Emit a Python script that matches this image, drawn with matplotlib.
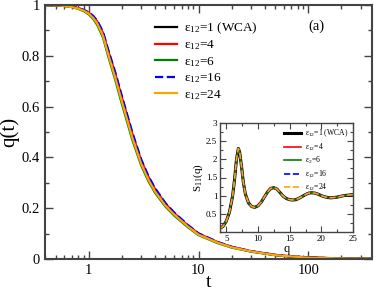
import numpy as np
import matplotlib.pyplot as plt
from matplotlib.ticker import MultipleLocator, LogLocator, NullFormatter

plt.rcParams['font.family'] = ['Liberation Serif', 'DejaVu Serif']
plt.rcParams['mathtext.fontset'] = 'custom'
plt.rcParams['mathtext.rm'] = 'Liberation Serif'
plt.rcParams['mathtext.it'] = 'Liberation Serif:italic'

# datos q(t)
t = [0.4, 0.5, 0.6, 0.7, 0.8, 0.9, 1.0, 1.1, 1.2, 1.35, 1.5, 1.75, 2.0, 2.5,
     3.0, 3.5, 4.0, 5.0, 6.0, 8.0, 10, 15, 20, 30, 50, 70, 100, 200, 380]
q_wca = [1.0, 0.999, 0.997, 0.993, 0.987, 0.979, 0.968, 0.952, 0.93, 0.885, 0.815, 0.72,
         0.63, 0.485, 0.383, 0.318, 0.272, 0.214, 0.178, 0.13, 0.098, 0.065, 0.047, 0.03,
         0.016, 0.01, 0.006, 0.002, 0.001]
q_e4 = [1.0, 0.999, 0.997, 0.993, 0.988, 0.98, 0.97, 0.955, 0.934, 0.89, 0.822, 0.728,
        0.638, 0.492, 0.389, 0.323, 0.277, 0.218, 0.181, 0.132, 0.1, 0.066, 0.048, 0.031,
        0.016, 0.01, 0.006, 0.002, 0.001]
q_e6 = [1.0, 0.999, 0.996, 0.992, 0.985, 0.976, 0.963, 0.945, 0.92, 0.872, 0.8, 0.703,
        0.612, 0.468, 0.369, 0.306, 0.262, 0.206, 0.171, 0.125, 0.094, 0.062, 0.045, 0.029,
        0.015, 0.009, 0.005, 0.002, 0.001]
q_e16 = [1.0, 0.999, 0.997, 0.994, 0.988, 0.981, 0.971, 0.957, 0.937, 0.894, 0.826, 0.733,
         0.643, 0.497, 0.393, 0.326, 0.28, 0.22, 0.183, 0.134, 0.101, 0.067, 0.048, 0.031,
         0.016, 0.01, 0.006, 0.002, 0.001]
q_e24 = [1.0, 0.999, 0.996, 0.992, 0.986, 0.978, 0.966, 0.949, 0.926, 0.879, 0.808, 0.712,
         0.622, 0.477, 0.376, 0.312, 0.267, 0.21, 0.175, 0.128, 0.096, 0.064, 0.046, 0.03,
         0.015, 0.01, 0.005, 0.002, 0.001]

# datos S11(q)
qk = [4, 4.5, 5, 5.5, 6, 6.3, 6.6, 6.9, 7.1, 7.4, 7.7, 8.0, 8.5, 9.0, 9.5, 10.0, 10.5,
      11, 11.5, 12, 12.5, 13, 13.5, 14, 14.5, 15, 15.5, 16, 16.5, 17, 17.5, 18, 18.5,
      19, 19.5, 20, 20.5, 21, 21.5, 22, 22.5, 23, 23.5, 24, 24.5, 25]
S11 = [0.1, 0.16, 0.3, 0.55, 1.0, 1.45, 2.0, 2.3, 2.2, 1.8, 1.35, 1.05, 0.8, 0.7, 0.68,
       0.72, 0.82, 0.96, 1.1, 1.2, 1.22, 1.18, 1.08, 0.98, 0.92, 0.89, 0.88, 0.89, 0.93,
       0.98, 1.03, 1.07, 1.08, 1.07, 1.04, 1.0, 0.97, 0.95, 0.94, 0.95, 0.96, 0.98, 1.0,
       1.01, 1.02, 1.03]

labels = [r'ε$_{12}$=1 (WCA)', r'ε$_{12}$=4', r'ε$_{12}$=6', r'ε$_{12}$=16', r'ε$_{12}$=24']
labels_in = [r'ε$_{12}$=1 (WCA)', r'ε$_{12}$=4', r'ε$_{2}$=6', r'ε$_{12}$=16', r'ε$_{12}$=24']
colores = ['black', 'red', 'green', 'blue', 'orange']
estilos = ['-', '-', '-', '--', '-']
estilos_in = ['-', '-', '-', '--', '--']
curvas = [q_wca, q_e4, q_e6, q_e16, q_e24]

fig = plt.figure(figsize=(3.74, 2.92), dpi=100)
ax = fig.add_axes([45/374, 1-259/292, 327/374, 254/292])

for qq, c, ls, lab in zip(curvas, colores, estilos, labels):
    ax.plot(t, qq, color=c, ls=ls, lw=1.6, label=lab)

ax.set_xscale('log')
ax.set_xlim(0.4, 380)
ax.set_ylim(0, 1)
ax.yaxis.set_minor_locator(MultipleLocator(0.1))
ax.set_yticks([0, 0.2, 0.4, 0.6, 0.8, 1.0])
ax.set_yticklabels(['0', '0.2', '0.4', '0.6', '0.8', '1'])
ax.set_xticks([1, 10, 100])
ax.set_xticklabels(['1', '10', '100'])
ax.xaxis.set_minor_locator(LogLocator(base=10, subs=np.arange(2, 10)))
ax.xaxis.set_minor_formatter(NullFormatter())
ax.tick_params(which='both', direction='in', top=True, right=True, labelsize=10.5,
               color='#444444')
ax.tick_params(which='major', length=6, width=1)
ax.tick_params(which='minor', length=3, width=1)
for s in ax.spines.values():
    s.set_linewidth(1.5)
    s.set_color('#444444')
ax.set_xlabel('t', fontsize=14, labelpad=-2)
ax.set_ylabel('q(t)', fontsize=15, labelpad=2)
ax.legend(loc='upper left', bbox_to_anchor=(0.32, 0.96), frameon=False, fontsize=9.5,
          handlelength=1.7, handletextpad=0.5, labelspacing=0.2, borderaxespad=0)
ax.text(0.83, 0.915, '(a)', transform=ax.transAxes, fontsize=10.5, ha='center', va='center')

# inset
ins = fig.add_axes([220/374, 1-232/292, 133/374, 109/292])
for c, ls, lab in zip(colores, estilos_in, labels_in):
    lw = 2.2 if c == 'black' else 1.2
    ins.plot(qk, S11, color=c, ls=ls, lw=lw, label=lab)
ins.set_xlim(4, 25)
ins.set_ylim(0, 3)
ins.set_xticks([5, 10, 15, 20, 25])
ins.set_yticks([0.5, 1, 1.5, 2, 2.5, 3])
ins.set_yticklabels(['0.5', '1', '1.5', '2', '2.5', '3'])
ins.xaxis.set_minor_locator(MultipleLocator(2.5))
ins.yaxis.set_minor_locator(MultipleLocator(0.25))
ins.tick_params(which='both', direction='in', top=True, right=True, labelsize=6.5,
                color='#444444', pad=2)
ins.tick_params(which='major', length=4, width=0.8)
ins.tick_params(which='minor', length=2, width=0.8)
for s in ins.spines.values():
    s.set_linewidth(1.0)
    s.set_color('#444444')
ins.set_xlabel('q', fontsize=9, labelpad=0)
ins.set_ylabel(r'S$_{11}$(q)', fontsize=8, labelpad=1)
ins.legend(loc='upper right', frameon=False, fontsize=5.5, handlelength=2.2,
           handletextpad=0.5, labelspacing=0.3, borderaxespad=0.2)

fig.savefig('out.png', dpi=100)
